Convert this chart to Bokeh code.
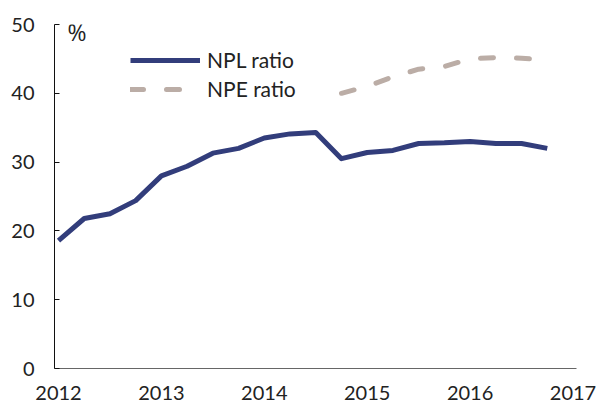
from bokeh.plotting import figure
from bokeh.models import Range1d, FixedTicker, Legend, LegendItem, Label
from bokeh.embed import file_html
from bokeh.resources import INLINE

# ---- data ----
npl_x = [2012.0, 2012.25, 2012.5, 2012.75, 2013.0, 2013.25, 2013.5, 2013.75,
         2014.0, 2014.25, 2014.5, 2014.75, 2015.0, 2015.25, 2015.5, 2015.75,
         2016.0, 2016.25, 2016.5, 2016.75]
npl_ratio = [18.6, 21.8, 22.5, 24.4, 28.0, 29.4, 31.3, 32.0, 33.5, 34.1,
             34.3, 30.5, 31.4, 31.7, 32.7, 32.8, 33.0, 32.7, 32.7, 32.0]
npe_x = [2014.75, 2015.0, 2015.25, 2015.5, 2015.75, 2016.0, 2016.25, 2016.5, 2016.75]
npe_ratio = [40.0, 41.0, 42.4, 43.5, 43.9, 45.0, 45.2, 45.1, 44.8]
year_ticks = [2012, 2013, 2014, 2015, 2016, 2017]
y_ticks = [0, 10, 20, 30, 40, 50]
series_names = ["NPL ratio", "NPE ratio"]
unit_label = "%"

NAVY = "#323D7B"
BEIGE = "#BBADA6"
FONT = "Lato"

p = figure(width=596, height=403, output_backend="svg", toolbar_location=None,
           x_range=Range1d(2011.961, 2017.034), y_range=Range1d(0, 50),
           min_border_left=54, min_border_right=20, min_border_top=24,
           min_border_bottom=35)
p.outline_line_color = None
p.grid.visible = False
p.background_fill_color = "white"
p.border_fill_color = "white"

r1 = p.line(npl_x, npl_ratio, line_color=NAVY, line_width=5, line_join="round")
r2 = p.line(npe_x, npe_ratio, line_color=BEIGE, line_width=5, line_dash="13 23",
            line_cap="round", line_join="round")

# x axis
p.xaxis.ticker = FixedTicker(ticks=year_ticks)
p.xaxis.major_tick_line_color = None
p.xaxis.minor_tick_line_color = None
p.xaxis.axis_line_color = "#666666"
p.xaxis.major_label_text_font = FONT
p.xaxis.major_label_text_font_size = "20px"
p.xaxis.major_label_text_color = "#222222"
p.xaxis.major_label_standoff = 11
p.xaxis.formatter.use_scientific = False

# y axis
p.yaxis.ticker = FixedTicker(ticks=y_ticks)
p.yaxis.major_tick_in = 5
p.yaxis.major_tick_out = 0
p.yaxis.minor_tick_line_color = None
p.yaxis.axis_line_color = "#111111"
p.yaxis.major_tick_line_color = "#111111"
p.yaxis.major_label_text_font = FONT
p.yaxis.major_label_text_font_size = "20px"
p.yaxis.major_label_text_color = "#222222"
p.yaxis.major_label_standoff = 20

p.add_layout(Label(x=year_ticks[0], y=y_ticks[-1], x_offset=9, y_offset=9,
                   text=unit_label, text_font="Open Sans", text_font_size="23px",
                   text_color="#222222", text_baseline="top"))

legend = Legend(items=[LegendItem(label=series_names[0], renderers=[r1]),
                       LegendItem(label=series_names[1], renderers=[r2])],
                location=(76, 267), orientation="vertical",
                glyph_width=70, glyph_height=24, label_height=24, spacing=4,
                label_standoff=7, padding=0, margin=0,
                border_line_alpha=0, background_fill_alpha=0,
                label_text_font=FONT, label_text_font_size="21px",
                label_text_color="#222222")
p.add_layout(legend)

open("out.html", "w").write(file_html(p, INLINE))
